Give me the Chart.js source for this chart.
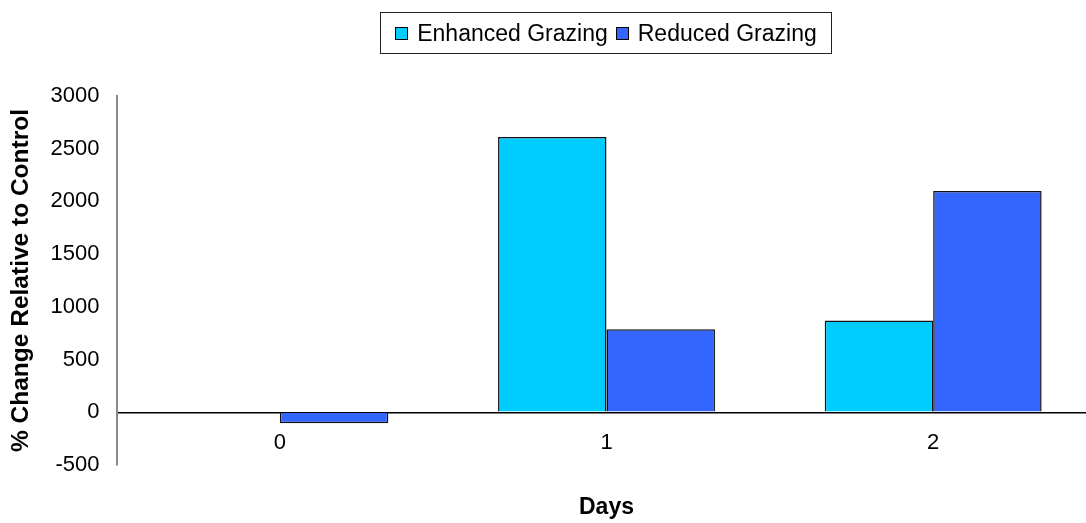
<!DOCTYPE html>
<html>
<head>
<meta charset="utf-8">
<title>Grazing change relative to control</title>
<script src="https://cdn.jsdelivr.net/npm/chart.js@4"></script>
<style>
  html, body { margin: 0; padding: 0; background: #fff; overflow: hidden; }
  #wrap { position: relative; width: 1100px; height: 523px; }
  #legend {
    position: absolute; left: 380px; top: 12px; width: 450px; height: 40px;
    border: 1px solid #222; display: flex; align-items: center; justify-content: center;
    font-family: "Liberation Sans", Arial, sans-serif; font-size: 23px; color: #000;
  }
  .leg-item { display: flex; align-items: center; margin: 0 4px; }
  .leg-box { width: 11px; height: 11px; border: 1px solid #000; margin-right: 9px; }
</style>
</head>
<body>
<div id="wrap">
  <canvas id="chart" width="1100" height="523"></canvas>
  <div id="legend"></div>
</div>
<script>
// ---- Data ----
const days = ['0', '1', '2'];
const enhancedGrazing = [null, 2612, 870];
const reducedGrazing  = [-104, 788, 2099];
const yTicks = { min: -500, max: 3000, step: 500 };

const seriesNames  = ['Enhanced Grazing', 'Reduced Grazing'];
const seriesColors = ['#00CCFF', '#3366FF'];

const FONT = '"Liberation Sans", Arial, sans-serif';

// ---- Legend (html, framed) ----
const legendEl = document.getElementById('legend');
legendEl.innerHTML = seriesNames.map((n, i) => `
  <div class="leg-item">
    <div class="leg-box" style="background:${seriesColors[i]}"></div>
    <span>${n}</span>
  </div>`).join('');

// ---- Chart ----
const ctx = document.getElementById('chart').getContext('2d');
new Chart(ctx, {
    type: 'bar',
    data: {
        labels: days,
        datasets: [
            {
                label: seriesNames[0],
                data: enhancedGrazing,
                backgroundColor: seriesColors[0],
                borderColor: '#111',
                borderWidth: 1.5,
                categoryPercentage: 0.664,
                barPercentage: 1.0
            },
            {
                label: seriesNames[1],
                data: reducedGrazing,
                backgroundColor: seriesColors[1],
                borderColor: '#111',
                borderWidth: 1.5,
                categoryPercentage: 0.664,
                barPercentage: 1.0
            }
        ]
    },
    options: {
        responsive: false,
        animation: false,
        layout: { padding: { top: 96, right: 3.5, bottom: 0, left: 0 } },
        plugins: {
            legend: { display: false },
            tooltip: { enabled: false }
        },
        scales: {
            // category labels sit under the zero line
            x: {
                position: { y: 0 },
                grid: { display: false, drawTicks: false },
                border: { display: false },
                ticks: {
                    color: '#000',
                    padding: 17,
                    font: { family: FONT, size: 22 }
                }
            },
            // bottom axis only carries the "Days" title
            xTitle: {
                type: 'category',
                position: 'bottom',
                labels: days,
                grid: { display: false, drawTicks: false },
                border: { display: false },
                ticks: { display: false },
                title: {
                    display: true,
                    text: 'Days',
                    color: '#000',
                    padding: { top: 0, bottom: 2 },
                    font: { family: FONT, size: 23, weight: 'bold' }
                },
                afterFit: function(scale) { scale.height = 58; }
            },
            y: {
                min: yTicks.min,
                max: yTicks.max,
                grid: {
                    drawTicks: false,
                    lineWidth: 1.5,
                    color: c => (c.tick && c.tick.value === 0) ? '#000' : 'rgba(0,0,0,0)'
                },
                border: { display: true, color: '#888', width: 2 },
                ticks: {
                    stepSize: yTicks.step,
                    color: '#000',
                    padding: 17,
                    font: { family: FONT, size: 22 },
                    callback: v => String(v)
                },
                title: {
                    display: true,
                    text: '% Change Relative to Control',
                    color: '#000',
                    padding: { top: 7, bottom: 0 },
                    font: { family: FONT, size: 24.5, weight: 'bold' }
                },
                afterFit: function(scale) { scale.width = 116.5; }
            }
        }
    }
});
</script>
</body>
</html>
